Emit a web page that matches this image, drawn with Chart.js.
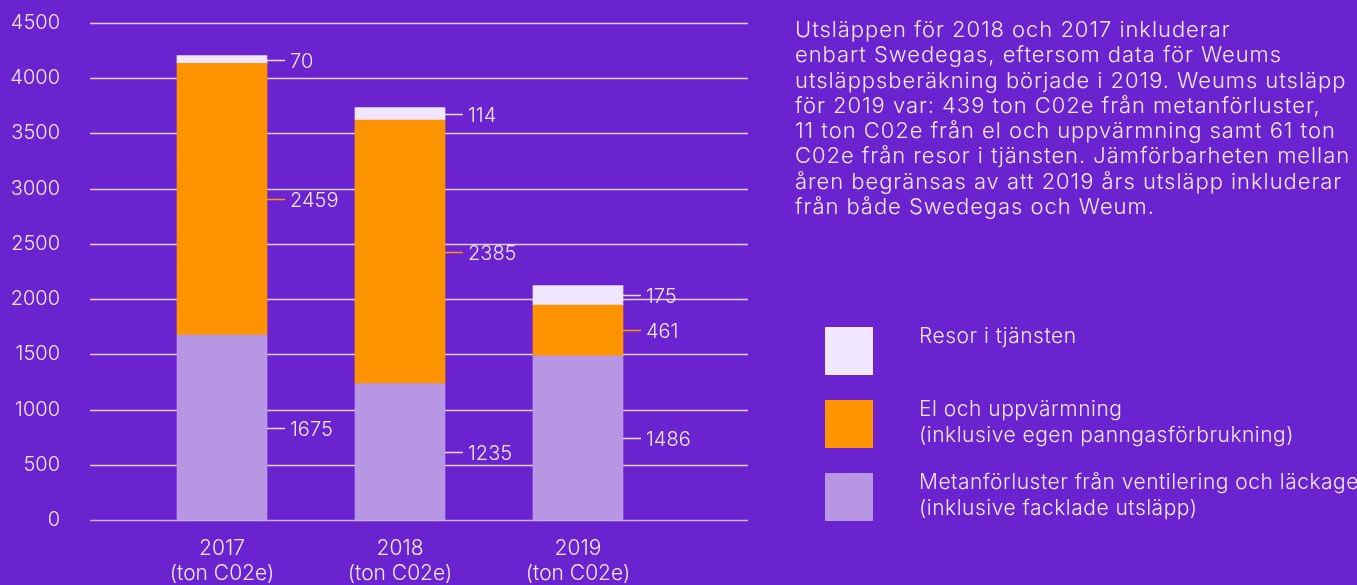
<!DOCTYPE html>
<html>
<head>
<meta charset="utf-8">
<script src="https://cdn.jsdelivr.net/npm/chart.js@4/dist/chart.umd.min.js"></script>
<style>
  html, body { margin: 0; padding: 0; background: #6b23cf; }
  body { width: 1357px; height: 585px; position: relative; overflow: hidden; font-family: Inter, "Noto Sans", sans-serif; color: #efe6ff; }
  #wrap { position: absolute; left: 0; top: 0; width: 1357px; height: 585px; }
  #note { position: absolute; left: 795px; top: 17px; font-size: 22px; line-height: 25.3px; font-weight: 300; letter-spacing: 0.95px; white-space: nowrap; }
  #legend { position: absolute; left: 825px; top: 0; }
  .item { position: absolute; left: 0; white-space: nowrap; }
  .box { position: absolute; left: 0; top: 0; width: 48px; height: 48px; }
  .txt { position: absolute; left: 94px; top: -4px; font-size: 21px; line-height: 25.5px; font-weight: 300; letter-spacing: 0.5px; }
</style>
</head>
<body>
<div id="wrap"><canvas id="chart"></canvas></div>
<div id="note"></div>
<div id="legend"></div>
<script>
// data
const years = ["2017", "2018", "2019"];
const unitLabel = "(ton C02e)";
const metan = [1675, 1235, 1486];
const elUpp = [2459, 2385, 461];
const resor = [70, 114, 175];
const seriesNames = [
  ["Metanförluster från ventilering och läckage", "(inklusive facklade utsläpp)"],
  ["El och uppvärmning", "(inklusive egen panngasförbrukning)"],
  ["Resor i tjänsten"]
];
const seriesColors = ["#b796e3", "#ff9400", "#f0e6fe"];
const leaderColors = ["#e6dcfa", "#ff9400", "#e6dcfa"];
const yMax = 4500;
const yStep = 500;
const noteLines = [
  "Utsläppen för 2018 och 2017 inkluderar",
  "enbart Swedegas, eftersom data för Weums",
  "utsläppsberäkning började i 2019. Weums utsläpp",
  "för 2019 var: 439 ton C02e från metanförluster,",
  "11 ton C02e från el och uppvärmning samt 61 ton",
  "C02e från resor i tjänsten. Jämförbarheten mellan",
  "åren begränsas av att 2019 års utsläpp inkluderar",
  "från både Swedegas och Weum."
];

document.getElementById("note").innerHTML = noteLines.join("<br>");

// legend, top series first
let legendTops = [473, 400, 327];
let legendHtml = "";
for (let i = seriesNames.length - 1; i >= 0; i--) {
  legendHtml += `<div class="item" style="top:${legendTops[i]}px">
    <div class="box" style="background:${seriesColors[i]}"></div>
    <div class="txt">${seriesNames[i].join("<br>")}</div></div>`;
}
document.getElementById("legend").innerHTML = legendHtml;

const fontFam = "Inter, 'Noto Sans', sans-serif";

// grid lines run wider than the bar area
const gridPlugin = {
  id: "wideGrid",
  beforeDatasetsDraw(chart) {
    const ctx = chart.ctx;
    const y = chart.scales.y;
    ctx.save();
    ctx.lineWidth = 1.5;
    y.ticks.forEach(t => {
      const py = Math.round(y.getPixelForValue(t.value)) + 0.5;
      ctx.strokeStyle = t.value === 0 ? "rgba(205,185,245,0.95)" : "rgba(245,238,255,0.85)";
      ctx.beginPath();
      ctx.moveTo(90, py);
      ctx.lineTo(748, py);
      ctx.stroke();
    });
    ctx.restore();
  }
};

const valuePlugin = {
  id: "valueLabels",
  afterDatasetsDraw(chart) {
    const ctx = chart.ctx;
    ctx.save();
    ctx.font = "300 20px " + fontFam;
    ctx.textBaseline = "middle";
    ctx.textAlign = "left";
    chart.data.datasets.forEach((ds, i) => {
      const meta = chart.getDatasetMeta(i);
      meta.data.forEach((bar, j) => {
        const p = bar.getProps(["x", "y", "base", "width"], true);
        const right = p.x + p.width / 2;
        const my = Math.round((p.y + p.base) / 2) + 0.5;
        ctx.strokeStyle = leaderColors[i];
        ctx.lineWidth = 1.5;
        ctx.beginPath();
        ctx.moveTo(right, my);
        ctx.lineTo(right + 18, my);
        ctx.stroke();
        ctx.fillStyle = "#efe6ff";
        ctx.fillText(String(ds.data[j]), right + 23, my + 1);
      });
    });
    ctx.restore();
  }
};

const chart = new Chart(document.getElementById("chart"), {
  type: "bar",
  data: {
    labels: years.map(y => [y, unitLabel]),
    datasets: [
      { label: seriesNames[0].join(" "), data: metan, backgroundColor: seriesColors[0] },
      { label: seriesNames[1].join(" "), data: elUpp, backgroundColor: seriesColors[1] },
      { label: seriesNames[2].join(" "), data: resor, backgroundColor: seriesColors[2] }
    ]
  },
  options: {
    responsive: true,
    maintainAspectRatio: false,
    animation: false,
    layout: { padding: { left: 0, right: 690, top: 23, bottom: 0 } },
    datasets: { bar: { barThickness: 90 } },
    plugins: { legend: { display: false }, tooltip: { enabled: false } },
    scales: {
      x: {
        stacked: true,
        grid: { display: false },
        border: { display: false },
        ticks: {
          color: "#efe6ff",
          padding: 8,
          font: { family: fontFam, size: 21, weight: 300, lineHeight: 1.2 }
        },
        afterFit(scale) { scale.height = 65; }
      },
      y: {
        stacked: true,
        min: 0,
        max: yMax,
        grid: { display: false },
        border: { display: false },
        ticks: {
          stepSize: yStep,
          color: "#efe6ff",
          padding: 65,
          font: { family: fontFam, size: 20, weight: 300 },
          callback: v => String(v)
        },
        afterFit(scale) {
          scale.width = 133;
          scale.paddingTop = 0;
          scale.paddingBottom = 0;
        }
      }
    }
  },
  plugins: [gridPlugin, valuePlugin]
});
</script>
</body>
</html>
